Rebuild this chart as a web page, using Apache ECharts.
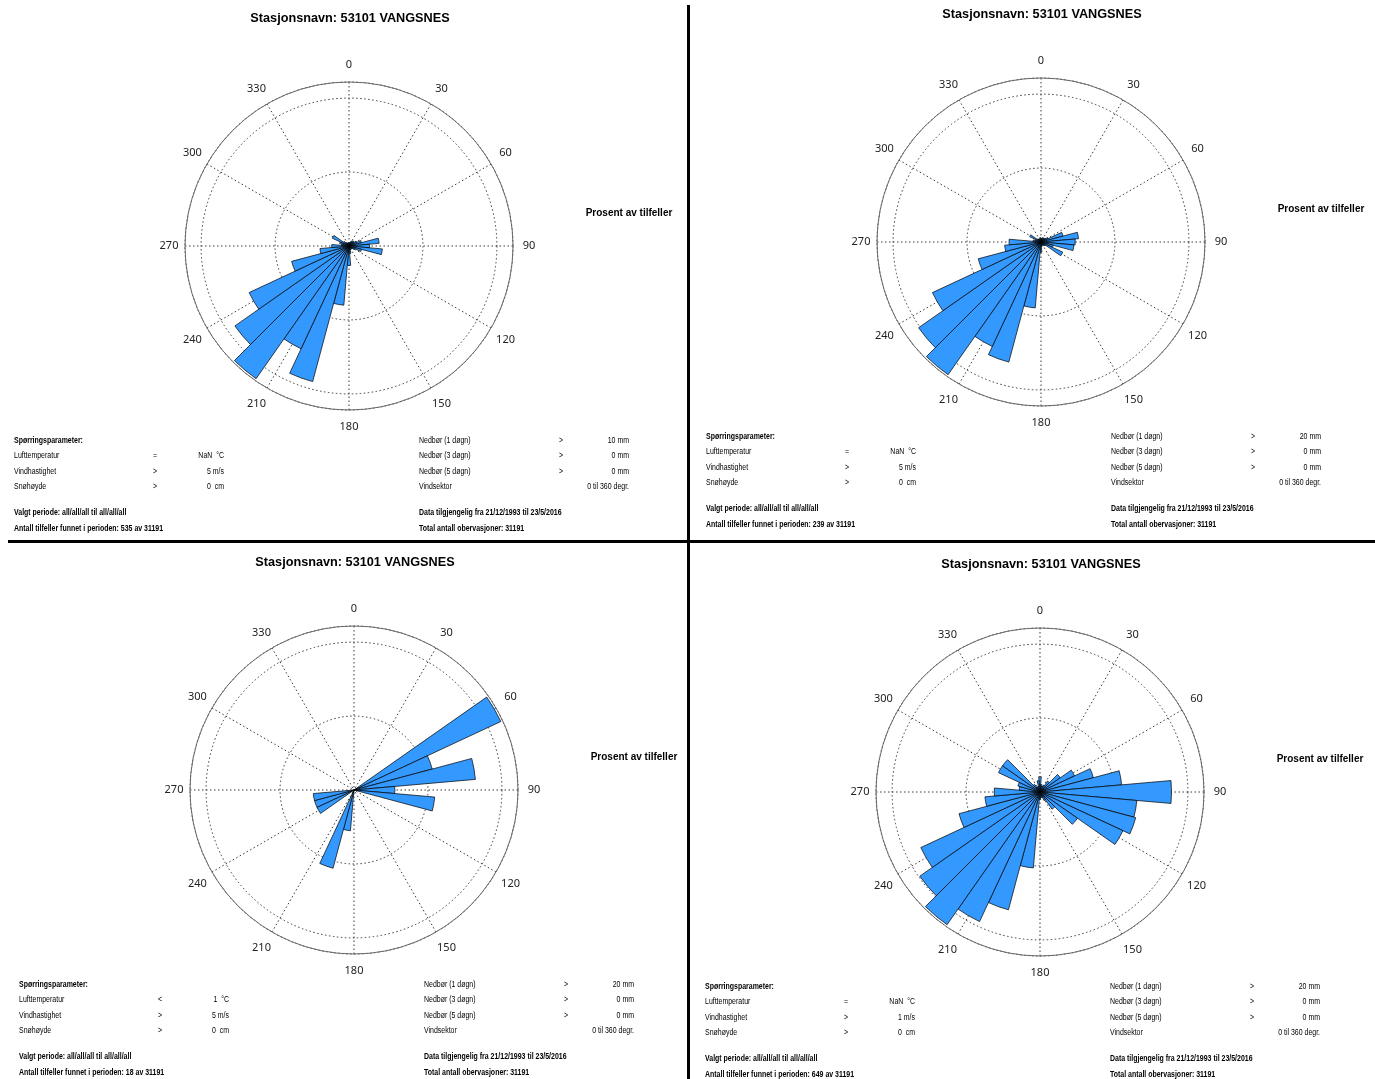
<!DOCTYPE html>
<html>
<head>
<meta charset="utf-8">
<script src="https://cdn.jsdelivr.net/npm/echarts@6/dist/echarts.min.js"></script>
<style>
  html, body { margin: 0; padding: 0; background: #ffffff; }
  #chart { width: 1375px; height: 1079px; }
</style>
</head>
<body>
<div id="chart"></div>
<script>
// Wind direction sectors (degrees, 10-degree bins)
const directions = [0, 10, 20, 30, 40, 50, 60, 70, 80, 90, 100, 110, 120, 130, 140, 150, 160, 170,
                    180, 190, 200, 210, 220, 230, 240, 250, 260, 270, 280, 290, 300, 310, 320, 330, 340, 350];

// Percent of cases per sector
const roseNedbor10 = [0.3, 0.3, 0.4, 0.5, 0.6, 0.6, 0.8, 1.2, 2.8, 1.9, 3.1, 1.2, 0.6, 0.4, 0.3, 0.3, 0.4, 0.7,
                      1.8, 5.5, 13.0, 10.5, 15.0, 12.9, 10.2, 5.5, 2.7, 1.6, 0.7, 0.9, 1.7, 0.6, 0.4, 0.3, 0.3, 0.3];
const roseNedbor20 = [0.3, 0.3, 0.4, 0.4, 0.4, 0.5, 0.7, 2.0, 3.3, 3.0, 2.9, 1.1, 2.1, 0.5, 0.4, 0.3, 0.3, 0.4,
                      0.9, 5.8, 10.9, 10.1, 14.2, 13.1, 10.5, 5.7, 3.2, 2.8, 0.7, 0.5, 1.1, 0.4, 0.3, 0.3, 0.3, 0.4];
const roseKuldeNedbor = [0, 0, 0, 0, 0, 0, 22.2, 11.1, 16.7, 5.6, 11.1, 0, 0, 0, 0, 0, 0, 0,
                         0, 5.6, 11.1, 0, 0, 0, 5.6, 5.6, 5.6, 0, 0, 0, 0, 0, 0, 0, 0, 0];
const roseSvakVind = [0.8, 0.4, 0.3, 0.4, 0.7, 1.3, 2.0, 2.9, 4.3, 6.9, 5.1, 5.2, 4.8, 2.4, 1.1, 0.5, 0.3, 0.3,
                      0.4, 4.0, 6.4, 7.5, 8.5, 7.7, 6.9, 4.4, 2.9, 2.4, 1.1, 1.2, 2.4, 2.4, 0.5, 0.3, 0.3, 0.6];

// Query parameters shown under each rose
const stationName = 'Stasjonsnavn: 53101 VANGSNES';
const radialTitle = 'Prosent av tilfeller';
const tempOperators = ['=', '=', '<', '='];
const tempValues = ['NaN', 'NaN', '1', 'NaN'];
const windLimits = ['5', '5', '5', '1'];
const precip1Limits = ['10', '20', '20', '20'];
const casesFound = ['535', '239', '18', '649'];
const totalObs = '31191';

const roses = [roseNedbor10, roseNedbor20, roseKuldeNedbor, roseSvakVind];
const centers = [[349, 246], [1041, 242], [354, 790], [1040, 792]];

const R = 164;
const gridColor = '#3a3a3a';
const dotted = [1.5, 2.5];

// the parameter block uses a narrow face: Liberation Sans squeezed horizontally
const smallFont = '"Liberation Sans", Arial, sans-serif';
const narrow = 0.84;

const option = {
  animation: false,
  backgroundColor: '#ffffff',
  polar: [], angleAxis: [], radiusAxis: [], series: [], graphic: []
};

function text(x, y, str, opt) {
  opt = opt || {};
  return {
    type: 'text', x: x, y: y, silent: true, z: 10,
    scaleX: opt.scaleX || 1,
    style: {
      text: str,
      fill: '#000',
      font: opt.font || ('8.3px ' + smallFont),
      align: opt.align || 'left',
      verticalAlign: 'middle',
      textAlign: opt.align || 'left',
      textVerticalAlign: 'middle'
    }
  };
}

roses.forEach(function (values, k) {
  const cx = centers[k][0], cy = centers[k][1];
  const gi = 2 * k, bi = 2 * k + 1;
  const rMax = Math.max.apply(null, values) * 164 / 162;

  // grid polar: rings, spokes and compass labels
  option.polar.push({ center: [cx, cy], radius: R });
  option.angleAxis.push({
    polarIndex: gi, type: 'value', min: 0, max: 360, interval: 30,
    startAngle: 90, clockwise: true,
    axisLine: { lineStyle: { color: '#6a6a6a', width: 1 } },
    axisTick: { show: false },
    axisLabel: {
      margin: 11,
      formatter: function (v) { return '{c|' + v + '}'; },
      rich: {
        c: { width: 10, height: 12, lineHeight: 12, align: 'center', color: '#222', fontSize: 11,
             fontFamily: '"Noto Sans", "Open Sans", sans-serif' }
      }
    },
    splitLine: { lineStyle: { type: dotted, color: gridColor, width: 1 } }
  });
  option.radiusAxis.push({
    polarIndex: gi, type: 'value', min: 0, max: rMax, interval: rMax * 0.451,
    axisLine: { show: false }, axisTick: { show: false }, axisLabel: { show: false },
    splitLine: { lineStyle: { type: dotted, color: gridColor, width: 1 } }
  });

  // bar polar: sectors centred on each 10-degree direction
  option.polar.push({ center: [cx, cy], radius: R });
  option.angleAxis.push({
    polarIndex: bi, type: 'category', data: directions,
    startAngle: 95, clockwise: true,
    axisLine: { show: false }, axisTick: { show: false }, axisLabel: { show: false }, splitLine: { show: false }
  });
  option.radiusAxis.push({
    polarIndex: bi, type: 'value', min: 0, max: rMax,
    axisLine: { show: false }, axisTick: { show: false }, axisLabel: { show: false }, splitLine: { show: false }
  });
  option.series.push({
    type: 'bar', coordinateSystem: 'polar', polarIndex: bi,
    data: values, barCategoryGap: '0%', silent: true, z: 3,
    itemStyle: { color: '#3399ff', borderColor: '#000', borderWidth: 0.7 }
  });

  // titles
  option.graphic.push(text(cx + 1, cy - 228, stationName, { align: 'center', font: 'bold 12.7px "Liberation Sans", Arial, sans-serif' }));
  option.graphic.push(text(cx + 280, cy - 33, radialTitle, { align: 'center', font: 'bold 10px "Liberation Sans", Arial, sans-serif' }));

  // parameter block
  const L = cx - 335, T = cy + 194.5, Rc = L + 405;
  const rows = [0, 15.5, 31, 46.5, 72.5, 88.5];
  const bold = 'bold 8.3px ' + smallFont;
  const n = { scaleX: narrow };
  const nb = { scaleX: narrow, font: bold };
  const nr = { scaleX: narrow, align: 'right' };
  const nc = { scaleX: narrow, align: 'center' };
  option.graphic.push(text(L, T + rows[0], 'Spørringsparameter:', nb));
  option.graphic.push(text(L, T + rows[1], 'Lufttemperatur', n));
  option.graphic.push(text(L + 141, T + rows[1], tempOperators[k], nc));
  option.graphic.push(text(L + 210, T + rows[1], tempValues[k] + '  °C', nr));
  option.graphic.push(text(L, T + rows[2], 'Vindhastighet', n));
  option.graphic.push(text(L + 141, T + rows[2], '>', nc));
  option.graphic.push(text(L + 210, T + rows[2], windLimits[k] + ' m/s', nr));
  option.graphic.push(text(L, T + rows[3], 'Snøhøyde', n));
  option.graphic.push(text(L + 141, T + rows[3], '>', nc));
  option.graphic.push(text(L + 210, T + rows[3], '0  cm', nr));
  option.graphic.push(text(L, T + rows[4], 'Valgt periode: all/all/all til all/all/all', nb));
  option.graphic.push(text(L, T + rows[5], 'Antall tilfeller funnet i perioden: ' + casesFound[k] + ' av ' + totalObs, nb));

  option.graphic.push(text(Rc, T + rows[0], 'Nedbør (1 døgn)', n));
  option.graphic.push(text(Rc + 142, T + rows[0], '>', nc));
  option.graphic.push(text(Rc + 210, T + rows[0], precip1Limits[k] + ' mm', nr));
  option.graphic.push(text(Rc, T + rows[1], 'Nedbør (3 døgn)', n));
  option.graphic.push(text(Rc + 142, T + rows[1], '>', nc));
  option.graphic.push(text(Rc + 210, T + rows[1], '0 mm', nr));
  option.graphic.push(text(Rc, T + rows[2], 'Nedbør (5 døgn)', n));
  option.graphic.push(text(Rc + 142, T + rows[2], '>', nc));
  option.graphic.push(text(Rc + 210, T + rows[2], '0 mm', nr));
  option.graphic.push(text(Rc, T + rows[3], 'Vindsektor', n));
  option.graphic.push(text(Rc + 210, T + rows[3], '0 til 360 degr.', nr));
  option.graphic.push(text(Rc, T + rows[4], 'Data tilgjengelig fra 21/12/1993 til 23/5/2016', nb));
  option.graphic.push(text(Rc, T + rows[5], 'Total antall obervasjoner: ' + totalObs, nb));
});

// panel separators
option.graphic.push({ type: 'rect', silent: true, z: 20, shape: { x: 687, y: 5, width: 3, height: 1074 }, style: { fill: '#000' } });
option.graphic.push({ type: 'rect', silent: true, z: 20, shape: { x: 8, y: 540, width: 1367, height: 3 }, style: { fill: '#000' } });

const chart = echarts.init(document.getElementById('chart'), null, { renderer: 'canvas' });
chart.setOption(option);
</script>
</body>
</html>
